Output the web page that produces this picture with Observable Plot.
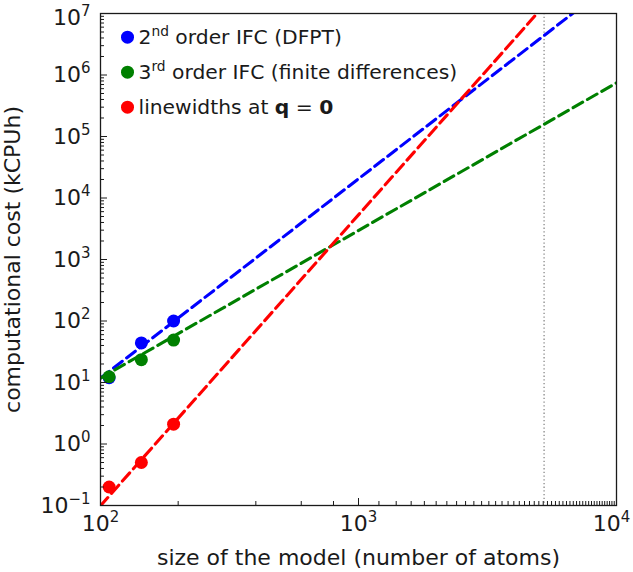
<!DOCTYPE html>
<html><head><meta charset="utf-8">
<script src="https://cdn.jsdelivr.net/npm/d3@7"></script>
<script src="https://cdn.jsdelivr.net/npm/@observablehq/plot@0.6"></script>
<style>
body{margin:0;background:#fff;}
#chart{width:633px;height:572px;}
</style>
</head><body><div id="chart"></div>
<script>
// ---- data ----
const atoms = [108, 144, 192];
const ifc2 = [12, 44, 100];
const ifc3 = [12.4, 23.5, 49];
const linewidths = [0.2, 0.5, 2.1];
// power-law fit lines, value at x = 100 and x = 10000
const fitX = [100, 10000];
const ifc2Fit = [11.8, 3.56e7];
const ifc3Fit = [11.8, 7.45e5];
const lwFit = [0.099, 2.86e8];
const seriesNames = ["2^{nd} order IFC (DFPT)", "3^{rd} order IFC (finite differences)", "linewidths at **q** = **0**"];
const seriesColors = ["#0000ff", "#008000", "#ff0000"];
const xTicks = [100, 1000, 10000];
const xTickLabels = ["10^{2}", "10^{3}", "10^{4}"];
const yTicks = [0.1, 1, 10, 100, 1e3, 1e4, 1e5, 1e6, 1e7];
const yTickLabels = ["10^{−1}", "10^{0}", "10^{1}", "10^{2}", "10^{3}", "10^{4}", "10^{5}", "10^{6}", "10^{7}"];
const markerAtoms = [5240];
const xTitle = "size of the model (number of atoms)";
const yTitle = "computational cost (kCPUh)";

// ---- layout ----
const W = 633, H = 572, mL = 100, mR = 17, mT = 13, mB = 67;
const frameW = W - mL - mR, frameH = H - mT - mB;
const FONT = "DejaVu Sans";
const INK = "#1a1a1a";

const seriesVals = [ifc2, ifc3, linewidths];
const fitVals = [ifc2Fit, ifc3Fit, lwFit];

const xDomain = [xTicks[0], xTicks[xTicks.length - 1]];
const yDomain = [yTicks[0], yTicks[yTicks.length - 1]];
const xMinor = d3.scaleLog().domain(xDomain).ticks(50).filter(v => !xTicks.some(t => Math.abs(t - v) / t < 1e-9));
const yMinor = d3.scaleLog().domain(yDomain).ticks(80).filter(v => !yTicks.some(t => Math.abs(t - v) / t < 1e-9));

const marks = [];
marks.push(Plot.ruleX(markerAtoms, {x: d => d, stroke: "#888", strokeWidth: 1.3, strokeDasharray: "1.3,2.4"}));

seriesNames.forEach((name, i) => {
  const pts = atoms.map((a, j) => ({x: a, y: seriesVals[i][j]}));
  const fit = fitX.map((a, j) => ({x: a, y: fitVals[i][j]}));
  marks.push(Plot.dot(pts, {x: "x", y: "y", r: 6.5, fill: seriesColors[i], stroke: "none"}));
  marks.push(Plot.line(fit, {x: "x", y: "y", stroke: seriesColors[i], strokeWidth: 3.1, strokeDasharray: "11,5.5", clip: true}));
});

// ticks (inward)
marks.push(Plot.tickX(xTicks, {x: d => d, insetTop: frameH - 7, stroke: INK, strokeWidth: 1}));
marks.push(Plot.tickX(xMinor, {x: d => d, insetTop: frameH - 4, stroke: INK, strokeWidth: 1}));
marks.push(Plot.tickY(yTicks, {y: d => d, insetRight: frameW - 7, stroke: INK, strokeWidth: 1}));
marks.push(Plot.tickY(yMinor, {y: d => d, insetRight: frameW - 4, stroke: INK, strokeWidth: 1}));
marks.push(Plot.frame({stroke: INK, strokeWidth: 1.3}));

// tick labels (the outermost ones nudged inward so they stay inside the picture)
xTicks.forEach((t, i) => {
  const edge = i === xTicks.length - 1 ? -5 : 0;
  marks.push(Plot.text([t], {x: d => d, text: () => xTickLabels[i], frameAnchor: "bottom", dx: edge, dy: 18, lineAnchor: "middle", textAnchor: "middle", fontSize: 22, fill: INK}));
});
yTicks.forEach((t, i) => {
  const edge = i === yTicks.length - 1 ? 4 : 0;
  marks.push(Plot.text([t], {y: d => d, text: () => yTickLabels[i], frameAnchor: "left", dx: -10, dy: edge, lineAnchor: "middle", textAnchor: "end", fontSize: 22, fill: INK}));
});

// axis titles
marks.push(Plot.text([xTitle], {text: d => d, frameAnchor: "bottom", dy: 52, lineAnchor: "middle", textAnchor: "middle", fontSize: 22, fill: INK}));
marks.push(Plot.text([yTitle], {text: d => d, frameAnchor: "left", dx: -87.5, rotate: -90, lineAnchor: "middle", textAnchor: "middle", fontSize: 22, fill: INK}));

// legend
seriesNames.forEach((name, i) => {
  marks.push(Plot.dot([name], {frameAnchor: "top-left", dx: 27, dy: 23.7 + 35 * i, r: 6.5, fill: seriesColors[i], stroke: "none"}));
  marks.push(Plot.text([name], {text: d => d, frameAnchor: "top-left", dx: 38, dy: 23.7 + 35 * i, lineAnchor: "middle", textAnchor: "start", fontSize: 20.3, fill: INK}));
});

const chart = Plot.plot({
  width: W, height: H,
  marginLeft: mL, marginRight: mR, marginTop: mT, marginBottom: mB,
  x: {type: "log", domain: xDomain, axis: null},
  y: {type: "log", domain: yDomain, axis: null},
  style: {fontFamily: FONT, background: "#fff", color: INK},
  marks
});

// rich text: ^{...} superscript, **...** bold
const NS = "http://www.w3.org/2000/svg";
chart.querySelectorAll("text").forEach(el => {
  const s = el.textContent;
  if (!/\^\{|\*\*/.test(s)) return;
  el.textContent = "";
  const re = /\^\{([^}]*)\}|\*\*([^*]*)\*\*|([^^*]+)/g;
  let m;
  while ((m = re.exec(s))) {
    const t = document.createElementNS(NS, "tspan");
    if (m[1] !== undefined) { t.setAttribute("baseline-shift", "super"); t.setAttribute("font-size", "68%"); t.textContent = m[1]; }
    else if (m[2] !== undefined) { t.setAttribute("font-weight", "bold"); t.textContent = m[2]; }
    else t.textContent = m[3];
    el.appendChild(t);
  }
});
document.getElementById("chart").appendChild(chart);
</script>
</body></html>
